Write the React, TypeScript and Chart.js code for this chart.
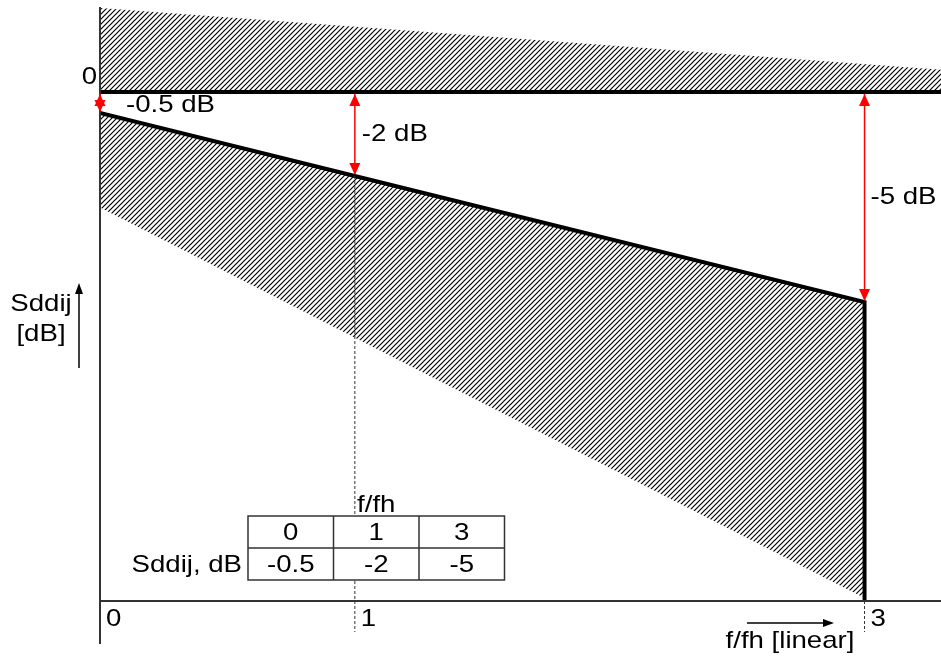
import React, { useEffect, useRef } from "react";
import { Chart, registerables } from "chart.js";

Chart.register(...registerables);

// f/fh reference points and Sddij limit (dB)
const freqPoints = [0, 1, 3];
const limitDb = [-0.5, -2, -5];
// upper hatched band (above 0 dB)
const upperBandX = [0, 3.3, 3.3, 0];
const upperBandY = [0, 0, 0.53, 2];
// lower hatched band (below the limit line)
const lowerBandX = [0, 1, 3, 3, 0];
const lowerBandY = [-0.5, -2, -5, -12.05, -2.75];
// axis ranges
const xMin = 0;
const xMax = 3.3;
const yMin = -12.12;
const yMax = 2;
// tick labels
const xTickValues = [0, 1, 3];
const xTickLabels = ["0", "1", "3"];
const yTickValues = [0];
const yTickLabels = ["0"];
// arrow labels
const arrowLabels = ["-0.5 dB", "-2 dB", "-5 dB"];
// table
const tableHeader = "f/fh";
const tableRowLabel = "Sddij, dB";
const tableFreq = ["0", "1", "3"];
const tableDb = ["-0.5", "-2", "-5"];

const FONT = "24px 'Liberation Sans', Arial, sans-serif";
const SX = 1.15;

function makePattern(): CanvasPattern | string {
  const s = 5;
  const pc = document.createElement("canvas");
  pc.width = s;
  pc.height = s;
  const c = pc.getContext("2d");
  if (!c) return "#888";
  c.strokeStyle = "#000";
  c.lineWidth = 1.2;
  c.beginPath();
  c.moveTo(0, s);
  c.lineTo(s, 0);
  c.moveTo(-1, 1);
  c.lineTo(1, -1);
  c.moveTo(s - 1, s + 1);
  c.lineTo(s + 1, s - 1);
  c.stroke();
  return c.createPattern(pc, "repeat") || "#888";
}

function txt(ctx: CanvasRenderingContext2D, s: string, x: number, y: number, align: CanvasTextAlign) {
  ctx.save();
  ctx.translate(x, y);
  ctx.scale(SX, 1);
  ctx.textAlign = align;
  ctx.textBaseline = "middle";
  ctx.font = FONT;
  ctx.fillText(s, 0, 0);
  ctx.restore();
}

function arrowHead(ctx: CanvasRenderingContext2D, x: number, y: number, dir: number) {
  const len = 12;
  const hw = 5.5;
  ctx.beginPath();
  ctx.moveTo(x, y);
  ctx.lineTo(x - hw, y - dir * len);
  ctx.lineTo(x + hw, y - dir * len);
  ctx.closePath();
  ctx.fill();
}

const overlayPlugin = {
  id: "overlay",
  afterDatasetsDraw(chart: any) {
    const ctx: CanvasRenderingContext2D = chart.ctx;
    const xs = chart.scales.x;
    const ys = chart.scales.y;
    const area = chart.chartArea;
    const x0 = xs.getPixelForValue(xMin);
    const yAxisPix = ys.getPixelForValue(yMin);
    ctx.save();

    // dashed verticals at f/fh = 1 and 3
    ctx.strokeStyle = "#333";
    ctx.lineWidth = 1;
    ctx.setLineDash([3, 2]);
    freqPoints.forEach((f, i) => {
      if (f === 0) return;
      const px = xs.getPixelForValue(f);
      ctx.beginPath();
      ctx.moveTo(px, i === 1 ? ys.getPixelForValue(limitDb[i]) : yAxisPix);
      ctx.lineTo(px, yAxisPix + 31);
      ctx.stroke();
    });
    ctx.setLineDash([]);

    // axes
    ctx.strokeStyle = "#333";
    ctx.lineWidth = 2;
    ctx.beginPath();
    ctx.moveTo(x0, yAxisPix);
    ctx.lineTo(area.right, yAxisPix);
    ctx.moveTo(x0, area.top - 1);
    ctx.lineTo(x0, yAxisPix + 43);
    ctx.stroke();

    // red arrows
    ctx.strokeStyle = "#ff0000";
    ctx.fillStyle = "#ff0000";
    ctx.lineWidth = 1.5;
    const zeroPix = ys.getPixelForValue(0);
    freqPoints.forEach((f, i) => {
      const px = xs.getPixelForValue(f);
      const py = ys.getPixelForValue(limitDb[i]);
      ctx.beginPath();
      ctx.moveTo(px, zeroPix + 2);
      ctx.lineTo(px, py - 2);
      ctx.stroke();
      arrowHead(ctx, px, zeroPix + 2, -1);
      arrowHead(ctx, px, py - 1, 1);
    });

    // arrow labels
    ctx.fillStyle = "#000";
    const labelPos = [
      [26, 13],
      [7, 42],
      [6, 105],
    ];
    freqPoints.forEach((f, i) => {
      const px = xs.getPixelForValue(f);
      txt(ctx, arrowLabels[i], px + labelPos[i][0], zeroPix + labelPos[i][1], "left");
    });

    // x tick labels
    xTickValues.forEach((v, i) => {
      txt(ctx, xTickLabels[i], xs.getPixelForValue(v) + 6, yAxisPix + 18, "left");
    });
    // y tick labels
    yTickValues.forEach((v, i) => {
      txt(ctx, yTickLabels[i], x0 - 3, ys.getPixelForValue(v) - 15, "right");
    });

    // x axis title with arrow
    txt(ctx, "f/fh [linear]", 790, 641, "center");
    ctx.strokeStyle = "#000";
    ctx.fillStyle = "#000";
    ctx.lineWidth = 1.5;
    ctx.beginPath();
    ctx.moveTo(747, 623);
    ctx.lineTo(826, 623);
    ctx.stroke();
    ctx.beginPath();
    ctx.moveTo(834, 623);
    ctx.lineTo(823, 619);
    ctx.lineTo(823, 627);
    ctx.closePath();
    ctx.fill();

    // y axis title with arrow
    txt(ctx, "Sddij", 41, 304, "center");
    txt(ctx, "[dB]", 41, 334, "center");
    ctx.beginPath();
    ctx.moveTo(79, 368);
    ctx.lineTo(79, 292);
    ctx.stroke();
    ctx.beginPath();
    ctx.moveTo(79, 283);
    ctx.lineTo(75, 294);
    ctx.lineTo(83, 294);
    ctx.closePath();
    ctx.fill();

    // table
    const tx = 248;
    const ty = 516;
    const cw = 85.5;
    const rh = 32;
    ctx.fillStyle = "#fff";
    ctx.fillRect(tx, ty, cw * 3, rh * 2);
    ctx.strokeStyle = "#333";
    ctx.lineWidth = 1.5;
    ctx.strokeRect(tx, ty, cw * 3, rh * 2);
    ctx.beginPath();
    ctx.moveTo(tx, ty + rh);
    ctx.lineTo(tx + cw * 3, ty + rh);
    for (let c = 1; c < 3; c++) {
      ctx.moveTo(tx + cw * c, ty);
      ctx.lineTo(tx + cw * c, ty + rh * 2);
    }
    ctx.stroke();
    ctx.fillStyle = "#000";
    txt(ctx, tableHeader, tx + cw * 1.5, ty - 11, "center");
    for (let c = 0; c < 3; c++) {
      txt(ctx, tableFreq[c], tx + cw * (c + 0.5), ty + rh / 2 + 1, "center");
      txt(ctx, tableDb[c], tx + cw * (c + 0.5), ty + rh * 1.5 + 1, "center");
    }
    txt(ctx, tableRowLabel, tx - 6, ty + rh * 1.5 + 1, "right");

    ctx.restore();
  },
};

export default function App() {
  const ref = useRef<HTMLCanvasElement | null>(null);
  useEffect(() => {
    if (!ref.current) return;
    const pattern = makePattern();
    const toPts = (xa: number[], ya: number[]) => xa.map((x, i) => ({ x, y: ya[i] }));
    const chart = new Chart(ref.current, {
      type: "line",
      data: {
        datasets: [
          {
            data: toPts(upperBandX, upperBandY),
            borderWidth: 0,
            borderColor: "rgba(0,0,0,0)",
            backgroundColor: pattern as any,
            fill: "shape",
            pointRadius: 0,
            tension: 0,
          } as any,
          {
            data: toPts(lowerBandX, lowerBandY),
            borderWidth: 0,
            borderColor: "rgba(0,0,0,0)",
            backgroundColor: pattern as any,
            fill: "shape",
            pointRadius: 0,
            tension: 0,
          } as any,
          {
            data: toPts([xMin, xMax], [0, 0]),
            borderWidth: 4,
            borderColor: "#000",
            fill: false,
            pointRadius: 0,
          },
          {
            data: [...toPts(freqPoints, limitDb), { x: freqPoints[2], y: yMin }],
            borderWidth: 4,
            borderColor: "#000",
            fill: false,
            pointRadius: 0,
            tension: 0,
          },
        ],
      },
      options: {
        responsive: false,
        animation: false,
        layout: { padding: { left: 100, top: 8, right: 0, bottom: 60 } },
        plugins: { legend: { display: false }, tooltip: { enabled: false } },
        scales: {
          x: { type: "linear", display: false, min: xMin, max: xMax },
          y: { type: "linear", display: false, min: yMin, max: yMax },
        },
      },
      plugins: [overlayPlugin],
    });
    return () => chart.destroy();
  }, []);
  return (
    <div style={{ position: "absolute", left: 0, top: 0, background: "#fff" }}>
      <canvas ref={ref} width={941} height={661} style={{ display: "block" }} />
    </div>
  );
}
